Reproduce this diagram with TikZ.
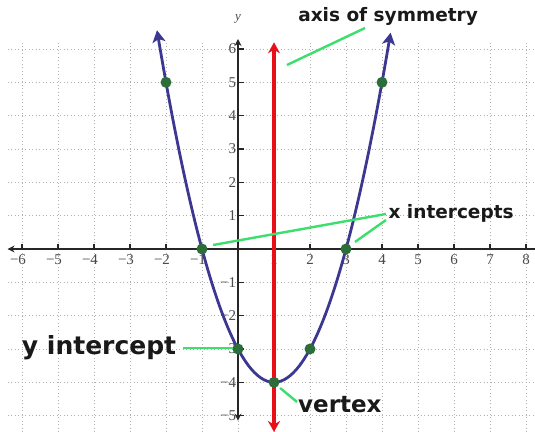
\documentclass[tikz,border=0pt]{standalone}
\usepackage{fontspec}
\setmainfont{Liberation Serif}
\newfontfamily\lblfont{DejaVu Sans}
\usetikzlibrary{arrows.meta}
\definecolor{curveblue}{RGB}{60,56,145}
\definecolor{dotgreen}{RGB}{44,110,58}
\definecolor{callgreen}{RGB}{60,222,110}
\definecolor{axisred}{RGB}{232,16,24}
\definecolor{ticktext}{RGB}{75,75,75}
\tikzset{
  gridline/.style={gray!60, line width=0.8pt, dash pattern=on 0.9pt off 2.6pt},
  axisline/.style={black!85, line width=1.4pt},
  ptdot/.style={circle, fill=dotgreen, inner sep=0pt, minimum size=11pt},
  callout/.style={callgreen, line width=2.4pt},
  lbl/.style={text=black!90, inner sep=0pt},
  ticklbl/.style={font=\fontsize{15}{15}\selectfont, text=ticktext, inner sep=1pt},
}
\begin{document}
\begin{tikzpicture}[x=36pt,y=33.333pt]
\useasboundingbox (-6.6111,-5.49) rectangle (8.25,7.47);
\fill[white] (-6.6111,-5.49) rectangle (8.25,7.47);
% grid
\foreach \gx in {-6,...,8} \draw[gridline] (\gx,-5.49) -- (\gx,6.25);
\foreach \gy in {-5,...,6} \draw[gridline] (-6.4,\gy) -- (8.25,\gy);
% axes
\draw[axisline,-{Stealth[length=7pt,width=7pt]}] (8.25,0) -- (-6.4,0);
\draw[axisline,{Stealth[length=7pt,width=7pt]}-{Stealth[length=7pt,width=7pt]}] (0,-5.15) -- (0,6.3);
\foreach \gx in {-6,...,-1,1,2,...,8} \draw[black!85, line width=1.1pt] (\gx,0) -- (\gx,0.16);
\foreach \gy in {-5,...,-1,1,2,...,6} \draw[black!85, line width=1.1pt] (0,\gy) -- (0.17,\gy);
% tick labels
\foreach \gx in {6,5,4,3,2,1} \node[ticklbl, anchor=north, xshift=-4pt] at (-\gx,-0.13) {−\gx};
\foreach \gx in {1,...,8} \node[ticklbl, anchor=north] at (\gx,-0.13) {\gx};
\foreach \gy in {1,...,6} \node[ticklbl, anchor=east] at (-0.02,\gy) {\gy};
\foreach \gy in {5,4,3,2,1} \node[ticklbl, anchor=east] at (-0.02,-\gy) {−\gy};
\node[font=\itshape\fontsize{13}{13}\selectfont, text=ticktext] (ylab) at (0,6.9) {y};
% red axis of symmetry
\coordinate (symtop) at (1,6.2);
\coordinate (symbot) at (1,-5.49);
\draw[axisred, line width=3.2pt, {Stealth[length=11pt,width=12pt]}-{Stealth[length=11pt,width=12pt]}] (symbot) -- (symtop);
% parabola
\draw[curveblue, line width=2.8pt, {Stealth[length=12pt,width=13pt,inset=3pt]}-{Stealth[length=12pt,width=13pt,inset=3pt]}, domain=-2.25:4.24, samples=80, smooth] plot (\x,{(\x-1)*(\x-1)-4});
% points
\node[ptdot] (pA) at (-2,5) {};
\node[ptdot] (pB) at (-1,0) {};
\node[ptdot] (pC) at (0,-3) {};
\node[ptdot] (pV) at (1,-4) {};
\node[ptdot] (pD) at (2,-3) {};
\node[ptdot] (pE) at (3,0) {};
\node[ptdot] (pF) at (4,5) {};
% labels
\node[lbl, font=\lblfont\bfseries\fontsize{18.5}{18.5}\selectfont] (aos) at (4.17,6.99) {axis of symmetry};
\node[lbl, font=\lblfont\bfseries\fontsize{18.5}{18.5}\selectfont] (xint) at (5.92,1.08) {x intercepts};
\node[lbl, font=\lblfont\bfseries\fontsize{25}{25}\selectfont] (yint) at (-3.86,-2.97) {y intercept};
\node[lbl, font=\lblfont\bfseries\fontsize{23}{23}\selectfont] (vtx) at (2.83,-4.68) {vertex};
% callouts
\coordinate (aosA) at (1.36,5.52);
\coordinate (aosB) at (3.53,6.63);
\draw[callout] (aosA) -- (aosB);
\coordinate (xiA) at (4.11,1.05);
\coordinate (xiB) at (4.11,0.87);
\coordinate (xiP) at (-0.69,0.12);
\coordinate (xiQ) at (3.25,0.21);
\draw[callout] (xiA) -- (xiP);
\draw[callout] (xiB) -- (xiQ);
\coordinate (yiA) at (-1.53,-2.97);
\coordinate (yiB) at (-0.14,-2.97);
\draw[callout] (yiA) -- (yiB);
\coordinate (vA) at (1.17,-4.17);
\coordinate (vB) at (1.64,-4.59);
\draw[callout] (vA) -- (vB);
\end{tikzpicture}
\end{document}
